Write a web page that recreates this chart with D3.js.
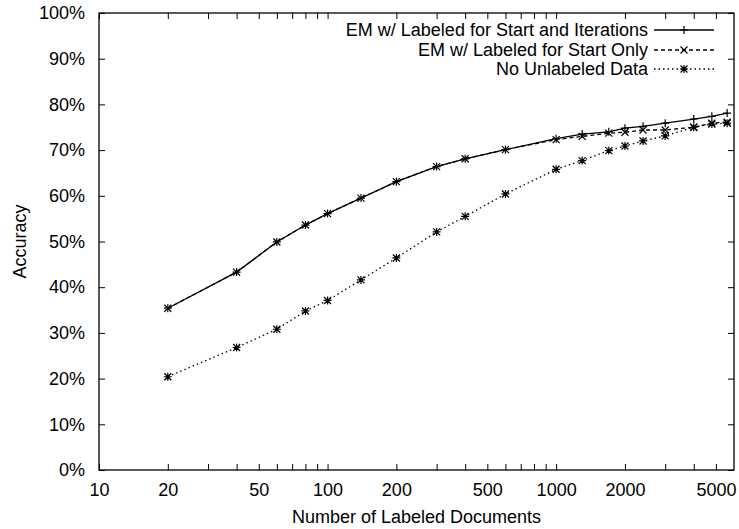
<!DOCTYPE html>
<html>
<head>
<meta charset="utf-8">
<script src="https://cdn.jsdelivr.net/npm/d3@7"></script>
<style>
  body { margin: 0; background: #fff; }
  text { font-family: "Liberation Sans", Arial, sans-serif; fill: #000; }
</style>
</head>
<body>
<div id="chart"></div>
<script>
// number of labeled documents (x) and accuracy in % for the three runs
const docCounts = [20, 40, 60, 80, 100, 140, 200, 300, 400, 600, 1000, 1300, 1700, 2000, 2400, 3000, 4000, 4800, 5600];
const emStartAndIter = [35.4, 43.3, 49.9, 53.6, 56.1, 59.5, 63.1, 66.4, 68.1, 70.1, 72.5, 73.5, 74.0, 74.8, 75.2, 75.9, 76.8, 77.4, 78.1];
const emStartOnly = [35.4, 43.3, 49.9, 53.6, 56.1, 59.5, 63.1, 66.4, 68.1, 70.1, 72.3, 73.0, 73.7, 73.9, 74.4, 74.4, 75.0, 75.9, 76.1];
const noUnlabeled = [20.4, 26.8, 30.8, 34.8, 37.1, 41.6, 46.4, 52.1, 55.5, 60.4, 65.8, 67.7, 69.9, 70.9, 72.0, 73.1, 75.0, 75.7, 75.9];

const seriesNames = ["EM w/ Labeled for Start and Iterations", "EM w/ Labeled for Start Only", "No Unlabeled Data"];

const xTicks = [10, 20, 30, 40, 50, 60, 70, 80, 90, 100, 200, 300, 400, 500, 600, 700, 800, 900, 1000, 2000, 3000, 4000, 5000];
const xLabels = [10, 20, 50, 100, 200, 500, 1000, 2000, 5000];
const yTicks = [0, 10, 20, 30, 40, 50, 60, 70, 80, 90, 100];

const width = 739, height = 529;
const margin = {top: 13, right: 5, bottom: 59, left: 99};
const w = width - margin.left - margin.right;
const h = height - margin.top - margin.bottom;

const svg = d3.select("#chart").append("svg")
    .attr("width", width)
    .attr("height", height);
const g = svg.append("g")
    .attr("transform", `translate(${margin.left}, ${margin.top})`);

const x = d3.scaleLog().domain([10, 6000]).range([0, w]);
const y = d3.scaleLinear().domain([0, 100]).range([h, 0]);

// ticks point inward on all four sides
function styleAxis(sel) {
    sel.select(".domain").remove();
    sel.selectAll("line").attr("stroke", "#000").attr("stroke-width", 1);
    sel.selectAll("text").attr("font-size", 18).attr("fill", "#000");
}

g.append("g")
    .attr("transform", `translate(0, ${h})`)
    .call(d3.axisBottom(x).tickValues(xTicks).tickSize(-6).tickPadding(13)
        .tickFormat(d => xLabels.includes(d) ? d : ""))
    .call(styleAxis);

g.append("g")
    .call(d3.axisTop(x).tickValues(xTicks).tickSize(-6).tickFormat(""))
    .call(styleAxis);

g.append("g")
    .call(d3.axisLeft(y).tickValues(yTicks).tickSize(-6).tickPadding(14)
        .tickFormat(d => d + "%"))
    .call(styleAxis);

g.append("g")
    .attr("transform", `translate(${w}, 0)`)
    .call(d3.axisRight(y).tickValues(yTicks).tickSize(-6).tickFormat(""))
    .call(styleAxis);

g.append("rect")
    .attr("width", w)
    .attr("height", h)
    .attr("fill", "none")
    .attr("stroke", "#000")
    .attr("stroke-width", 1.3);

// axis titles
svg.append("text")
    .attr("x", margin.left + w / 2)
    .attr("y", 523)
    .attr("text-anchor", "middle")
    .attr("font-size", 18)
    .text("Number of Labeled Documents");

svg.append("text")
    .attr("transform", `translate(26, ${margin.top + h / 2}) rotate(-90)`)
    .attr("text-anchor", "middle")
    .attr("font-size", 18)
    .text("Accuracy");

// point shapes like gnuplot: plus, cross, star
const plusPath = "M-4,0H4M0,-4V4";
const crossPath = "M-3.5,-3.5L3.5,3.5M-3.5,3.5L3.5,-3.5";
const shapes = [plusPath, crossPath, plusPath + crossPath];
const dashes = [null, "4,3", "1.5,3"];
const allSeries = [emStartAndIter, emStartOnly, noUnlabeled];

const line = d3.line()
    .x(d => x(d[0]))
    .y(d => y(d[1]));

allSeries.forEach((vals, i) => {
    const pts = docCounts.map((c, j) => [c, vals[j]]);
    g.append("path")
        .datum(pts)
        .attr("fill", "none")
        .attr("stroke", "#000")
        .attr("stroke-width", 1.3)
        .attr("stroke-dasharray", dashes[i])
        .attr("d", line);
    g.append("g").selectAll("path")
        .data(pts)
        .enter().append("path")
            .attr("transform", d => `translate(${x(d[0])}, ${y(d[1])})`)
            .attr("d", shapes[i])
            .attr("fill", "none")
            .attr("stroke", "#000")
            .attr("stroke-width", 1.2);
});

// legend, top right inside the plot
const legend = svg.append("g");
const rowY = [30, 50, 69];
seriesNames.forEach((name, i) => {
    const row = legend.append("g").attr("transform", `translate(0, ${rowY[i]})`);
    row.append("text")
        .attr("x", 648)
        .attr("dy", "0.35em")
        .attr("text-anchor", "end")
        .attr("font-size", 18)
        .text(name);
    row.append("line")
        .attr("x1", 654).attr("x2", 714)
        .attr("stroke", "#000")
        .attr("stroke-width", 1.3)
        .attr("stroke-dasharray", dashes[i]);
    row.append("path")
        .attr("transform", "translate(684, 0)")
        .attr("d", shapes[i])
        .attr("fill", "none")
        .attr("stroke", "#000")
        .attr("stroke-width", 1.2);
});
</script>
</body>
</html>
